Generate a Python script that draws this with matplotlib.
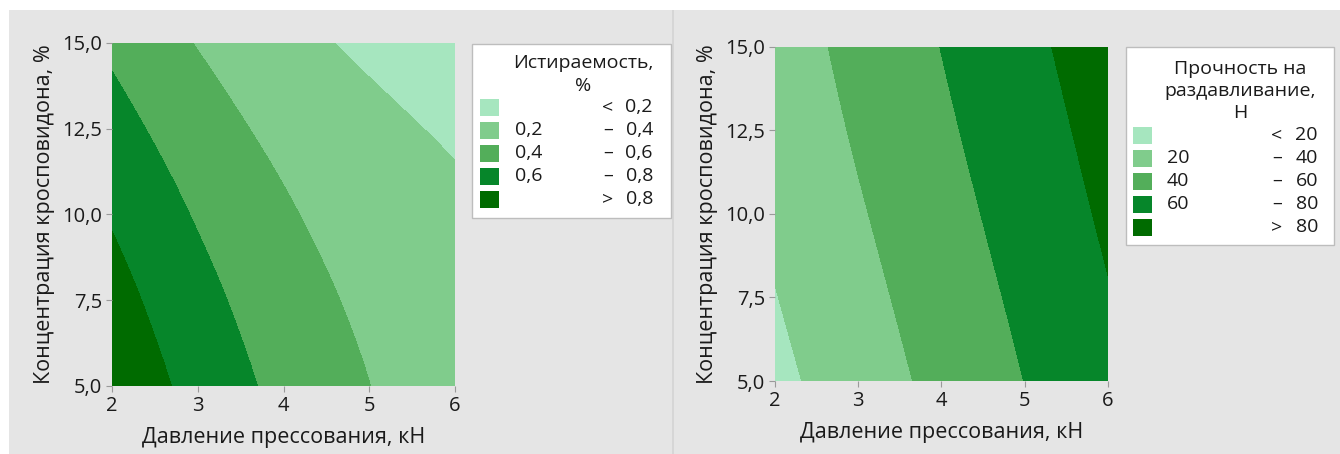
import numpy as np
import matplotlib.pyplot as plt
import matplotlib.tri as mtri
from matplotlib.patches import Rectangle

plt.rcParams['font.family'] = ['Open Sans', 'DejaVu Sans']

# design grid
pressure = [2, 3, 4, 5, 6]                 # давление, кН
crosp = [5.0, 7.5, 10.0, 12.5, 15.0]       # кросповидон, %

# истираемость, % (rows follow crosp, columns follow pressure)
abrasion = [
    [0.961, 0.734, 0.548, 0.402, 0.295],
    [0.876, 0.664, 0.492, 0.360, 0.268],
    [0.781, 0.583, 0.425, 0.307, 0.229],
    [0.675, 0.492, 0.348, 0.244, 0.180],
    [0.562, 0.391, 0.260, 0.168, 0.117],
]
# прочность на раздавливание, Н
strength = [
    [15.2, 30.2, 45.2, 60.2, 75.2],
    [19.4, 34.2, 49.1, 64.0, 79.0],
    [23.4, 38.2, 53.0, 67.9, 82.8],
    [27.2, 42.0, 56.8, 71.6, 86.5],
    [30.5, 45.4, 60.3, 75.2, 90.1],
]

abr_levels = [0.2, 0.4, 0.6, 0.8]
str_levels = [20, 40, 60, 80]
abr_low = ['', '0,2', '0,4', '0,6', '']
abr_high = ['0,2', '0,4', '0,6', '0,8', '0,8']
str_low = ['', '20', '40', '60', '']
str_high = ['20', '40', '60', '80', '80']
signs = ['<', '–', '–', '–', '>']

xticks = [2, 3, 4, 5, 6]
yticks = [5.0, 7.5, 10.0, 12.5, 15.0]
ytick_labels = ['5,0', '7,5', '10,0', '12,5', '15,0']

greens = ['#a6e6bf', '#80cc8c', '#53ae5a', '#06862a', '#006b00']
txt = '#1a1a1a'

W, H = 1340, 454
fig = plt.figure(figsize=(W / 100, H / 100), dpi=100)
fig.patch.set_facecolor('white')

# grey panels behind each plot
for x0, x1 in [(9, 672), (674, 1340)]:
    fig.patches.append(Rectangle((x0 / W, 0), (x1 - x0) / W, (H - 10) / H,
                                 transform=fig.transFigure, facecolor='#e5e5e5',
                                 edgecolor='none', zorder=-10))
fig.patches.append(Rectangle((672 / W, 0), 2 / W, (H - 10) / H, transform=fig.transFigure,
                             facecolor='#d6d6d6', edgecolor='none', zorder=-10))


def box(l, t, r, b):
    return [l / W, 1 - b / H, (r - l) / W, (b - t) / H]


def contour_panel(ax, z, levels):
    X, Y = np.meshgrid(pressure, crosp)
    tri = mtri.Triangulation(X.ravel(), Y.ravel())
    tri_f, z_f = mtri.UniformTriRefiner(tri).refine_field(np.asarray(z, float).ravel(), subdiv=5)
    ax.tricontourf(tri_f, z_f, levels=[-1e6] + levels + [1e6], colors=greens)
    ax.set_xlim(2, 6)
    ax.set_ylim(5, 15)
    ax.set_xticks(xticks)
    ax.set_xticklabels([str(v) for v in xticks])
    ax.set_yticks(yticks)
    ax.set_yticklabels(ytick_labels)
    ax.tick_params(length=4, width=0.8, color='#9a9a9a', labelsize=14.5, labelcolor=txt, pad=3)
    for s in ax.spines.values():
        s.set_visible(False)
    ax.set_xlabel('Давление прессования, кН', fontsize=15.5, color=txt, labelpad=8)
    ax.set_ylabel('Концентрация кросповидона, %', fontsize=15.5, color=txt, labelpad=5)


def legend_panel(frame, title_lines, title_ys, title_x, rows_y, sw_x, low_x, sign_x, val_x, lows, highs):
    l, t, r, b = frame
    fig.patches.append(Rectangle((l / W, 1 - b / H), (r - l) / W, (b - t) / H,
                                 transform=fig.transFigure, facecolor='white',
                                 edgecolor='#bdbdbd', linewidth=1, zorder=1))
    for line, y in zip(title_lines, title_ys):
        fig.text(title_x / W, 1 - y / H, line, ha='center', va='center', fontsize=14, color=txt)
    for i, y in enumerate(rows_y):
        fig.patches.append(Rectangle((sw_x / W, 1 - (y + 9) / H), 19 / W, 17 / H,
                                     transform=fig.transFigure, facecolor=greens[i],
                                     edgecolor='none', zorder=2))
        fig.text(low_x / W, 1 - y / H, lows[i], ha='left', va='center', fontsize=14, color=txt)
        fig.text(sign_x / W, 1 - y / H, signs[i], ha='center', va='center', fontsize=14, color=txt)
        fig.text(val_x / W, 1 - y / H, highs[i], ha='right', va='center', fontsize=14, color=txt)


ax1 = fig.add_axes(box(112, 43, 455, 386))
contour_panel(ax1, abrasion, abr_levels)
legend_panel((472, 44, 671, 218), ['Истираемость,', '%'], [63, 86], 583,
             [107, 130, 153, 176, 199], 480, 515, 608, 653, abr_low, abr_high)

ax2 = fig.add_axes(box(775, 47, 1108, 381))
contour_panel(ax2, strength, str_levels)
legend_panel((1126, 47, 1334, 245), ['Прочность на', 'раздавливание,', 'Н'], [69, 91, 113], 1240,
             [135, 158, 181, 204, 227], 1133, 1167, 1277, 1318, str_low, str_high)

fig.savefig('out.png', dpi=100)
